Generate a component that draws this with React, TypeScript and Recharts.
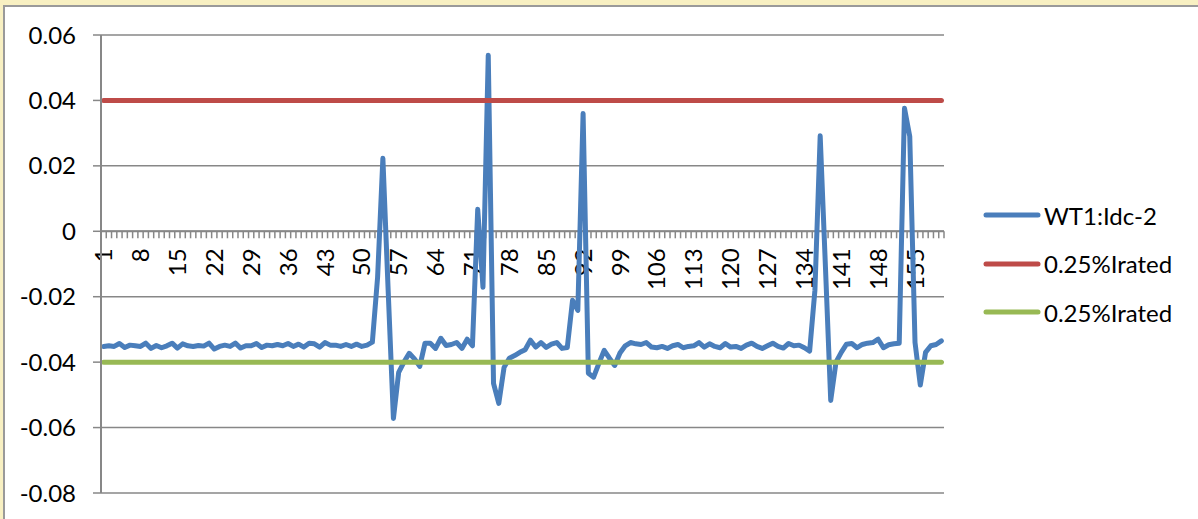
import React from 'react'
import { LineChart, Line, XAxis, YAxis, CartesianGrid, ReferenceLine } from 'recharts'

// WT1:Idc-2 samples
const idc2 = [
  -0.0352, -0.035, -0.0352, -0.0343, -0.0355, -0.0348, -0.035, -0.0352, -0.0342, -0.0358,
  -0.0349, -0.0356, -0.035, -0.0342, -0.0357, -0.0344, -0.035, -0.0352, -0.0349, -0.0351,
  -0.0342, -0.036, -0.0352, -0.0348, -0.0352, -0.0342, -0.0357, -0.035, -0.035, -0.0343,
  -0.0355, -0.0348, -0.035, -0.0346, -0.035, -0.0343, -0.0352, -0.0345, -0.0354, -0.0342,
  -0.0344, -0.0354, -0.034, -0.0348, -0.0348, -0.0352, -0.0346, -0.0352, -0.0345, -0.0352,
  -0.0348, -0.0339, -0.014, 0.0223, -0.018, -0.0572, -0.0431, -0.04, -0.0373, -0.039,
  -0.0413, -0.0342, -0.0342, -0.0358, -0.0327, -0.0349, -0.0346, -0.034, -0.0358, -0.033,
  -0.035, 0.0067, -0.0171, 0.0538, -0.0465, -0.0526, -0.0416, -0.0388, -0.038, -0.037,
  -0.0362, -0.0333, -0.0354, -0.034, -0.0355, -0.0345, -0.034, -0.0358, -0.0355, -0.0211,
  -0.0242, 0.036, -0.0434, -0.0446, -0.0404, -0.0364, -0.0388, -0.041, -0.0372, -0.035,
  -0.034, -0.0344, -0.0346, -0.034, -0.0354, -0.0356, -0.0352, -0.0358, -0.035, -0.0346,
  -0.0356, -0.0352, -0.035, -0.034, -0.0354, -0.0344, -0.0352, -0.0356, -0.0343, -0.0354,
  -0.0352, -0.0358, -0.0348, -0.0342, -0.0352, -0.0358, -0.035, -0.0342, -0.0352, -0.0357,
  -0.0343, -0.035, -0.0348, -0.0356, -0.0366, -0.018, 0.0292, -0.011, -0.0517, -0.04,
  -0.037, -0.0345, -0.0343, -0.0356, -0.0346, -0.0342, -0.034, -0.033, -0.0356, -0.0347,
  -0.0344, -0.0342, 0.0376, 0.029, -0.034, -0.047, -0.037, -0.035, -0.0346, -0.0335,
]

const categories = idc2.map((_, i) => String(i + 1))
const upperLimit = 0.04
const lowerLimit = -0.04
const yTicks = [-0.08, -0.06, -0.04, -0.02, 0, 0.02, 0.04, 0.06]
const labelStep = 7

const series = [
  { key: 'idc', name: 'WT1:Idc-2', color: '#4a7ebb' },
  { key: 'upper', name: '0.25%Irated', color: '#be4b48' },
  { key: 'lower', name: '0.25%Irated', color: '#98b954' },
]

const data = categories.map((cat, i) => ({
  cat,
  idc: idc2[i],
  upper: upperLimit,
  lower: lowerLimit,
}))

const FONT = 'Lato, "Noto Sans", sans-serif'
const FS = 24
const AXIS = '#878787'

// category axis drawn where y = 0, the way Excel crosses it
function ZeroAxis(props: any) {
  const { x1, x2, y1 } = props
  const n = categories.length
  const step = (x2 - x1) / n
  return (
    <g>
      <line x1={x1} x2={x2} y1={y1} y2={y1} stroke={AXIS} strokeWidth={2} />
      {Array.from({ length: n + 1 }, (_, i) => (
        <line key={'m' + i} x1={x1 + i * step} x2={x1 + i * step} y1={y1} y2={y1 + 7} stroke={AXIS} strokeWidth={1.5} />
      ))}
      {categories.map((c, i) =>
        i % labelStep === 0 ? (
          <text
            key={'l' + i}
            transform={`translate(${x1 + (i + 0.5) * step}, ${y1 + 17}) rotate(-90)`}
            textAnchor="end"
            dy="0.36em"
            fontFamily={FONT}
            fontSize={FS}
            fill="#000"
          >
            {c}
          </text>
        ) : null
      )}
    </g>
  )
}

export default function App() {
  return (
    <div style={{ position: 'absolute', left: 0, top: 0, width: 1198, height: 519, background: '#f8f0c2', overflow: 'hidden' }}>
      <div style={{ position: 'absolute', left: 3, top: 5, width: 1210, height: 530, background: '#fff', border: '2px solid #9a9a9a' }} />
      <div style={{ position: 'absolute', left: 0, top: 0 }}>
        <LineChart width={1198} height={519} data={data} margin={{ top: 35, right: 254, bottom: 26, left: 0 }}>
          <CartesianGrid vertical={false} stroke={AXIS} strokeWidth={1.5} />
          <XAxis dataKey="cat" scale="band" hide />
          <YAxis
            domain={[-0.08, 0.06]}
            ticks={yTicks}
            width={101}
            tickSize={8}
            tickMargin={17}
            axisLine={{ stroke: AXIS, strokeWidth: 2 }}
            tickLine={{ stroke: AXIS, strokeWidth: 1.5 }}
            tick={{ fill: '#000', fontSize: FS, fontFamily: FONT }}
            tickFormatter={(v: number) => (v === 0 ? '0' : v.toFixed(2))}
          />
          <ReferenceLine y={0} shape={(p: any) => <ZeroAxis {...p} />} />
          {series.map((s) => (
            <Line
              key={s.key}
              dataKey={s.key}
              name={s.name}
              type="linear"
              stroke={s.color}
              strokeWidth={5}
              strokeLinecap="round"
              strokeLinejoin="round"
              dot={false}
              activeDot={false}
              isAnimationActive={false}
            />
          ))}
        </LineChart>
      </div>
      <div style={{ position: 'absolute', left: 983, top: 191, fontFamily: FONT, fontSize: FS, color: '#000' }}>
        {series.map((s) => (
          <div key={s.key} style={{ display: 'flex', alignItems: 'center', height: 48.5 }}>
            <svg width={59} height={10} style={{ display: 'block' }}>
              <line x1={3} x2={55} y1={5} y2={5} stroke={s.color} strokeWidth={5} strokeLinecap="round" />
            </svg>
            <span style={{ marginLeft: 2, whiteSpace: 'nowrap' }}>{s.name}</span>
          </div>
        ))}
      </div>
    </div>
  )
}
